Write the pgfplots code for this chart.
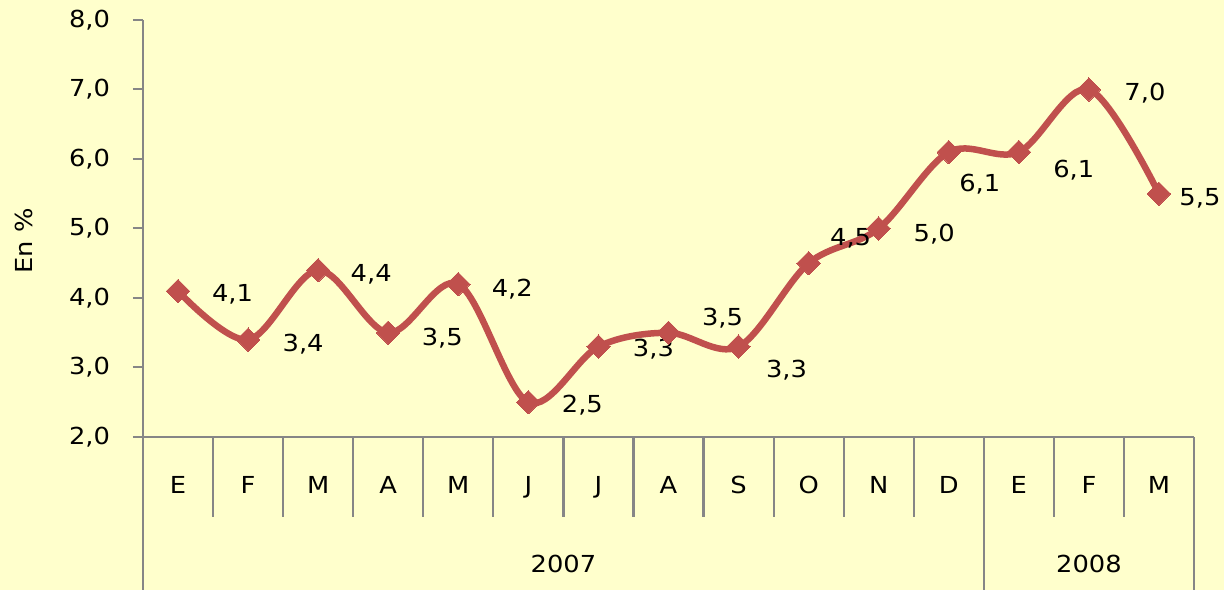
\documentclass[border=0pt]{standalone}
\usepackage{fontspec}
\setmainfont{DejaVu Sans}[FakeStretch=1.1]
\usepackage{pgfplots}
\pgfplotsset{compat=1.18}
\usepackage{pgfplotstable}
\definecolor{bgc}{HTML}{FFFFCC}
\definecolor{linec}{HTML}{C0504D}
\definecolor{axc}{HTML}{868686}

\pgfplotstableread{
x y dx dy
0 4.1 54.5 -3
1 3.4 55 -4
2 4.4 53 -4
3 3.5 54 -5
4 4.2 54 -5
5 2.5 54 -3
6 3.3 55 -3
7 3.5 54 15
8 3.3 48 -24
9 4.5 42 25
10 5.0 55.5 -6
11 6.1 31 -32
12 6.1 55 -18
13 7.0 56 -4
14 5.5 41 -5
}\datatable

\begin{document}
\fontsize{23.5}{28}\selectfont
\begin{tikzpicture}[font=\fontsize{23.5}{28}\selectfont]
\fill[bgc] (0,0) rectangle (1224bp,590bp);
\begin{axis}[
  at={(143bp,153bp)}, anchor=south west,
  scale only axis, width=1051bp, height=417bp,
  xmin=-0.5, xmax=14.5, ymin=2, ymax=8,
  axis x line*=bottom, axis y line*=left,
  axis line style={draw=axc, line width=2.2bp},
  clip=false,
  every tick label/.append style={font=\fontsize{23.5}{28}\selectfont},
  ytick={2,3,...,8},
  yticklabel style={/pgf/number format/.cd, fixed, fixed zerofill, precision=1, use comma, assume math mode=true, /tikz/.cd, anchor=east, xshift=-15bp},
  ytick style={draw=axc, line width=2bp},
  tick align=outside, major tick length=10bp,
  xtick={0,...,14},
  xticklabels={E,F,M,A,M,J,J,A,S,O,N,D,E,F,M},
  xtick style={draw=none},
  xticklabel style={anchor=base, yshift=-46bp},
  every axis y label/.style={at={(rel axis cs:-0.1132,0.47)}, rotate=90, anchor=center, font=\fontsize{23.5}{28}\selectfont},
  ylabel={En \%},
]
\addplot[color=linec, line width=6.5bp, smooth, tension=0.55,
  mark=square*, mark size=8.3bp, mark options={rotate=45, line width=0pt, fill=linec},
  point meta=y,
  visualization depends on=\thisrow{dx}\as\dx,
  visualization depends on=\thisrow{dy}\as\dy,
  nodes near coords={\pgfmathprintnumber[fixed,fixed zerofill,precision=1,use comma,assume math mode=true]{\pgfplotspointmeta}},
  nodes near coords style={anchor=center, xshift=\dx*1bp, yshift=\dy*1bp, text=black, inner sep=0pt, font=\fontsize{23.5}{28}\selectfont},
] table[x=x, y=y] {\datatable};
\pgfplotsinvokeforeach{0.5,1.5,2.5,3.5,4.5,5.5,6.5,7.5,8.5,9.5,10.5,12.5,13.5}{
  \draw[axc, line width=2.2bp] (axis cs:#1,2) -- ([yshift=-80bp]axis cs:#1,2);
}
\pgfplotsinvokeforeach{-0.5,11.5,14.5}{
  \draw[axc, line width=2.2bp] (axis cs:#1,2) -- ([yshift=-153bp]axis cs:#1,2);
}
\node[anchor=base, yshift=-135.7bp, font=\fontsize{23.5}{28}\selectfont] at (axis cs:5.5,2) {2007};
\node[anchor=base, yshift=-135.7bp, font=\fontsize{23.5}{28}\selectfont] at (axis cs:13,2) {2008};
\end{axis}
\pgfresetboundingbox
\path (0,0) rectangle (1224bp,590bp);
\end{tikzpicture}
\end{document}
